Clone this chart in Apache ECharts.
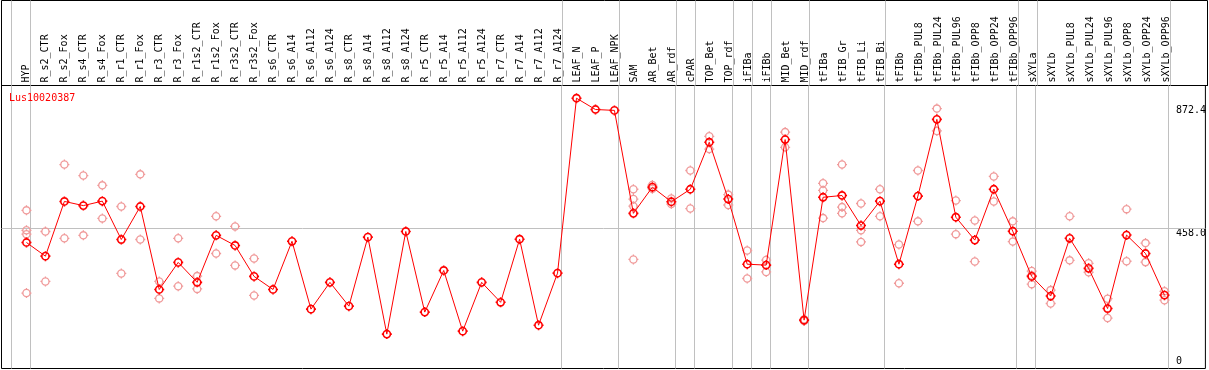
<!DOCTYPE html>
<html><head><meta charset="utf-8">
<script src="https://cdn.jsdelivr.net/npm/echarts@6/dist/echarts.min.js"></script>
<style>html,body{margin:0;padding:0;background:#fff}#c{width:1209px;height:370px}</style>
</head><body><div id="c"></div>
<script>
const geneName = 'Lus10020387';
const categories = ['HYP','R_s2_CTR','R_s2_Fox','R_s4_CTR','R_s4_Fox','R_r1_CTR','R_r1_Fox','R_r3_CTR','R_r3_Fox',
  'R_r1s2_CTR','R_r1s2_Fox','R_r3s2_CTR','R_r3s2_Fox','R_s6_CTR','R_s6_A14','R_s6_A112','R_s6_A124',
  'R_s8_CTR','R_s8_A14','R_s8_A112','R_s8_A124','R_r5_CTR','R_r5_A14','R_r5_A112','R_r5_A124',
  'R_r7_CTR','R_r7_A14','R_r7_A112','R_r7_A124','LEAF_N','LEAF_P','LEAF_NPK','SAM','AR_Bet','AR_rdf',
  'cPAR','TOP_Bet','TOP_rdf','iFIBa','iFIBb','MID_Bet','MID_rdf','tFIBa','tFIB_Gr','tFIB_Li','tFIB_Bi',
  'tFIBb','tFIBb_PUL8','tFIBb_PUL24','tFIBb_PUL96','tFIBb_OPP8','tFIBb_OPP24','tFIBb_OPP96',
  'sXYLa','sXYLb','sXYLb_PUL8','sXYLb_PUL24','sXYLb_PUL96','sXYLb_OPP8','sXYLb_OPP24','sXYLb_OPP96'];
const means = [411,365,549,535,550,421,532,253,344,277,435,401,297,253,415,187,277,197,429,103,448,
  177,317,113,277,210,422,133,308,896,858,855,509,597,548,590,748,557,338,335,757,150,563,569,468,550,
  338,567,825,496,419,590,449,297,231,425,324,189,436,374,234];
const replicates = [[519,452,439,241],[448,280],[673,425],[636,435],[603,492],[532,307],[640,421],
  [280,223],[425,264],[298,255],[499,374],[465,334],[357,233],[],[],[],[],[],[],[],[],[],[],[],[],[],[],[],[],
  [],[],[],[590,557,533,354],[604,592],[559,540],[653,525],[768,725],[572,537],[384,290],[352,312],
  [782,731],[153,147],[610,586,493],[673,530,509],[542,452,413],[590,499],[404,274],[653,482],[861,786],
  [552,439],[485,347],[633,549],[482,414],[315,300,271],[251,206],[499,351],[341,311],[222,157],
  [523,348],[409,345],[247,217]];
const separatorsAfter = [-1,0,28,31,34,35,37,38,39,41,45,52,53,60];
const yTickValues = [458.0, 872.4];
const yZeroTick = [0];

const FONT = '"DejaVu Sans Mono", monospace';
const X_MIN = -1.31579, X_MAX = 62.15789;
const Y_MIN = -12.57, Y_MAX = 938.7;
const SYM = 'path://M5,1.4 C6.988,1.4 8.6,3.012 8.6,5 C8.6,6.988 6.988,8.6 5,8.6 C3.012,8.6 1.4,6.988 1.4,5 C1.4,3.012 3.012,1.4 5,1.4 Z M5,0 L5,1.4 M5,8.6 L5,10 M0,5 L1.4,5 M8.6,5 L10,5';

const meanData = means.map((v, i) => [i, v]);
const repData = [];
replicates.forEach((arr, i) => arr.forEach(v => repData.push([i, v])));
const sepLines = separatorsAfter.map(i => ({xAxis: i + 4 / 19}));
const sepStyle = {color: '#c0c0c0', width: 1, type: 'solid'};

const chart = echarts.init(document.getElementById('c'), null, {renderer: 'canvas'});
chart.setOption({
  animation: false,
  backgroundColor: '#fff',
  title: {text: geneName, left: 9, top: 93, padding: 0,
    textStyle: {color: '#ff0000', fontSize: 10, fontWeight: 'normal', fontFamily: FONT}},
  grid: [
    {left: 1.5, right: 1.5, top: 0.5, height: 85, show: true, borderColor: '#000', borderWidth: 1, backgroundColor: 'transparent'},
    {left: 1.5, right: 1.5, top: 85.5, bottom: 1.5, show: true, borderColor: '#000', borderWidth: 1, backgroundColor: 'transparent'}
  ],
  xAxis: [
    {type: 'value', gridIndex: 0, min: X_MIN, max: X_MAX, position: 'bottom',
      axisLine: {show: true, lineStyle: {color: '#000', width: 1}}, axisTick: {show: false}, splitLine: {show: false},
      axisLabel: {inside: true, rotate: 90, margin: 3, align: 'left', verticalAlign: 'middle',
        customValues: categories.map((_, i) => i),
        formatter: v => categories[Math.round(v)] || '',
        color: '#000', fontSize: 10, fontFamily: FONT, hideOverlap: false}},
    {type: 'value', gridIndex: 1, min: X_MIN, max: X_MAX, show: false, position: 'top'}
  ],
  yAxis: [
    {type: 'value', gridIndex: 0, min: 0, max: 1, show: false},
    {type: 'value', gridIndex: 1, min: Y_MIN, max: Y_MAX, position: 'right',
      axisLine: {show: false}, axisTick: {show: false}, splitLine: {show: false},
      axisLabel: {inside: true, margin: 29.5, align: 'left', verticalAlign: 'top',
        customValues: yTickValues, formatter: v => Number(v).toFixed(1),
        color: '#000', fontSize: 10, fontFamily: FONT}},
    {type: 'value', gridIndex: 1, min: Y_MIN, max: Y_MAX, position: 'right',
      axisLine: {show: false}, axisTick: {show: false}, splitLine: {show: false},
      axisLabel: {inside: true, margin: 29.5, align: 'left', verticalAlign: 'bottom', lineHeight: 6,
        customValues: yZeroTick, formatter: v => String(Math.round(v)),
        color: '#000', fontSize: 10, fontFamily: FONT}}
  ],
  series: [
    {type: 'scatter', xAxisIndex: 0, yAxisIndex: 0, data: [], silent: true,
      markLine: {silent: true, symbol: 'none', label: {show: false}, lineStyle: sepStyle, data: sepLines}},
    {type: 'scatter', name: 'replicates', xAxisIndex: 1, yAxisIndex: 1, data: repData, z: 2,
      symbol: SYM, symbolSize: 10,
      itemStyle: {color: 'rgba(0,0,0,0)', borderColor: '#f09a9a', borderWidth: 1.3, opacity: 1},
      markLine: {silent: true, symbol: 'none', label: {show: false}, lineStyle: sepStyle, z: 1,
        data: sepLines.concat([{yAxis: yTickValues[0]}])}},
    {type: 'line', name: geneName, xAxisIndex: 1, yAxisIndex: 1, data: meanData, z: 3,
      symbol: SYM, symbolSize: 10, showAllSymbol: true,
      lineStyle: {color: '#ff0000', width: 1},
      itemStyle: {color: 'rgba(0,0,0,0)', borderColor: '#ff0000', borderWidth: 1.6}}
  ]
});
</script>
</body></html>
